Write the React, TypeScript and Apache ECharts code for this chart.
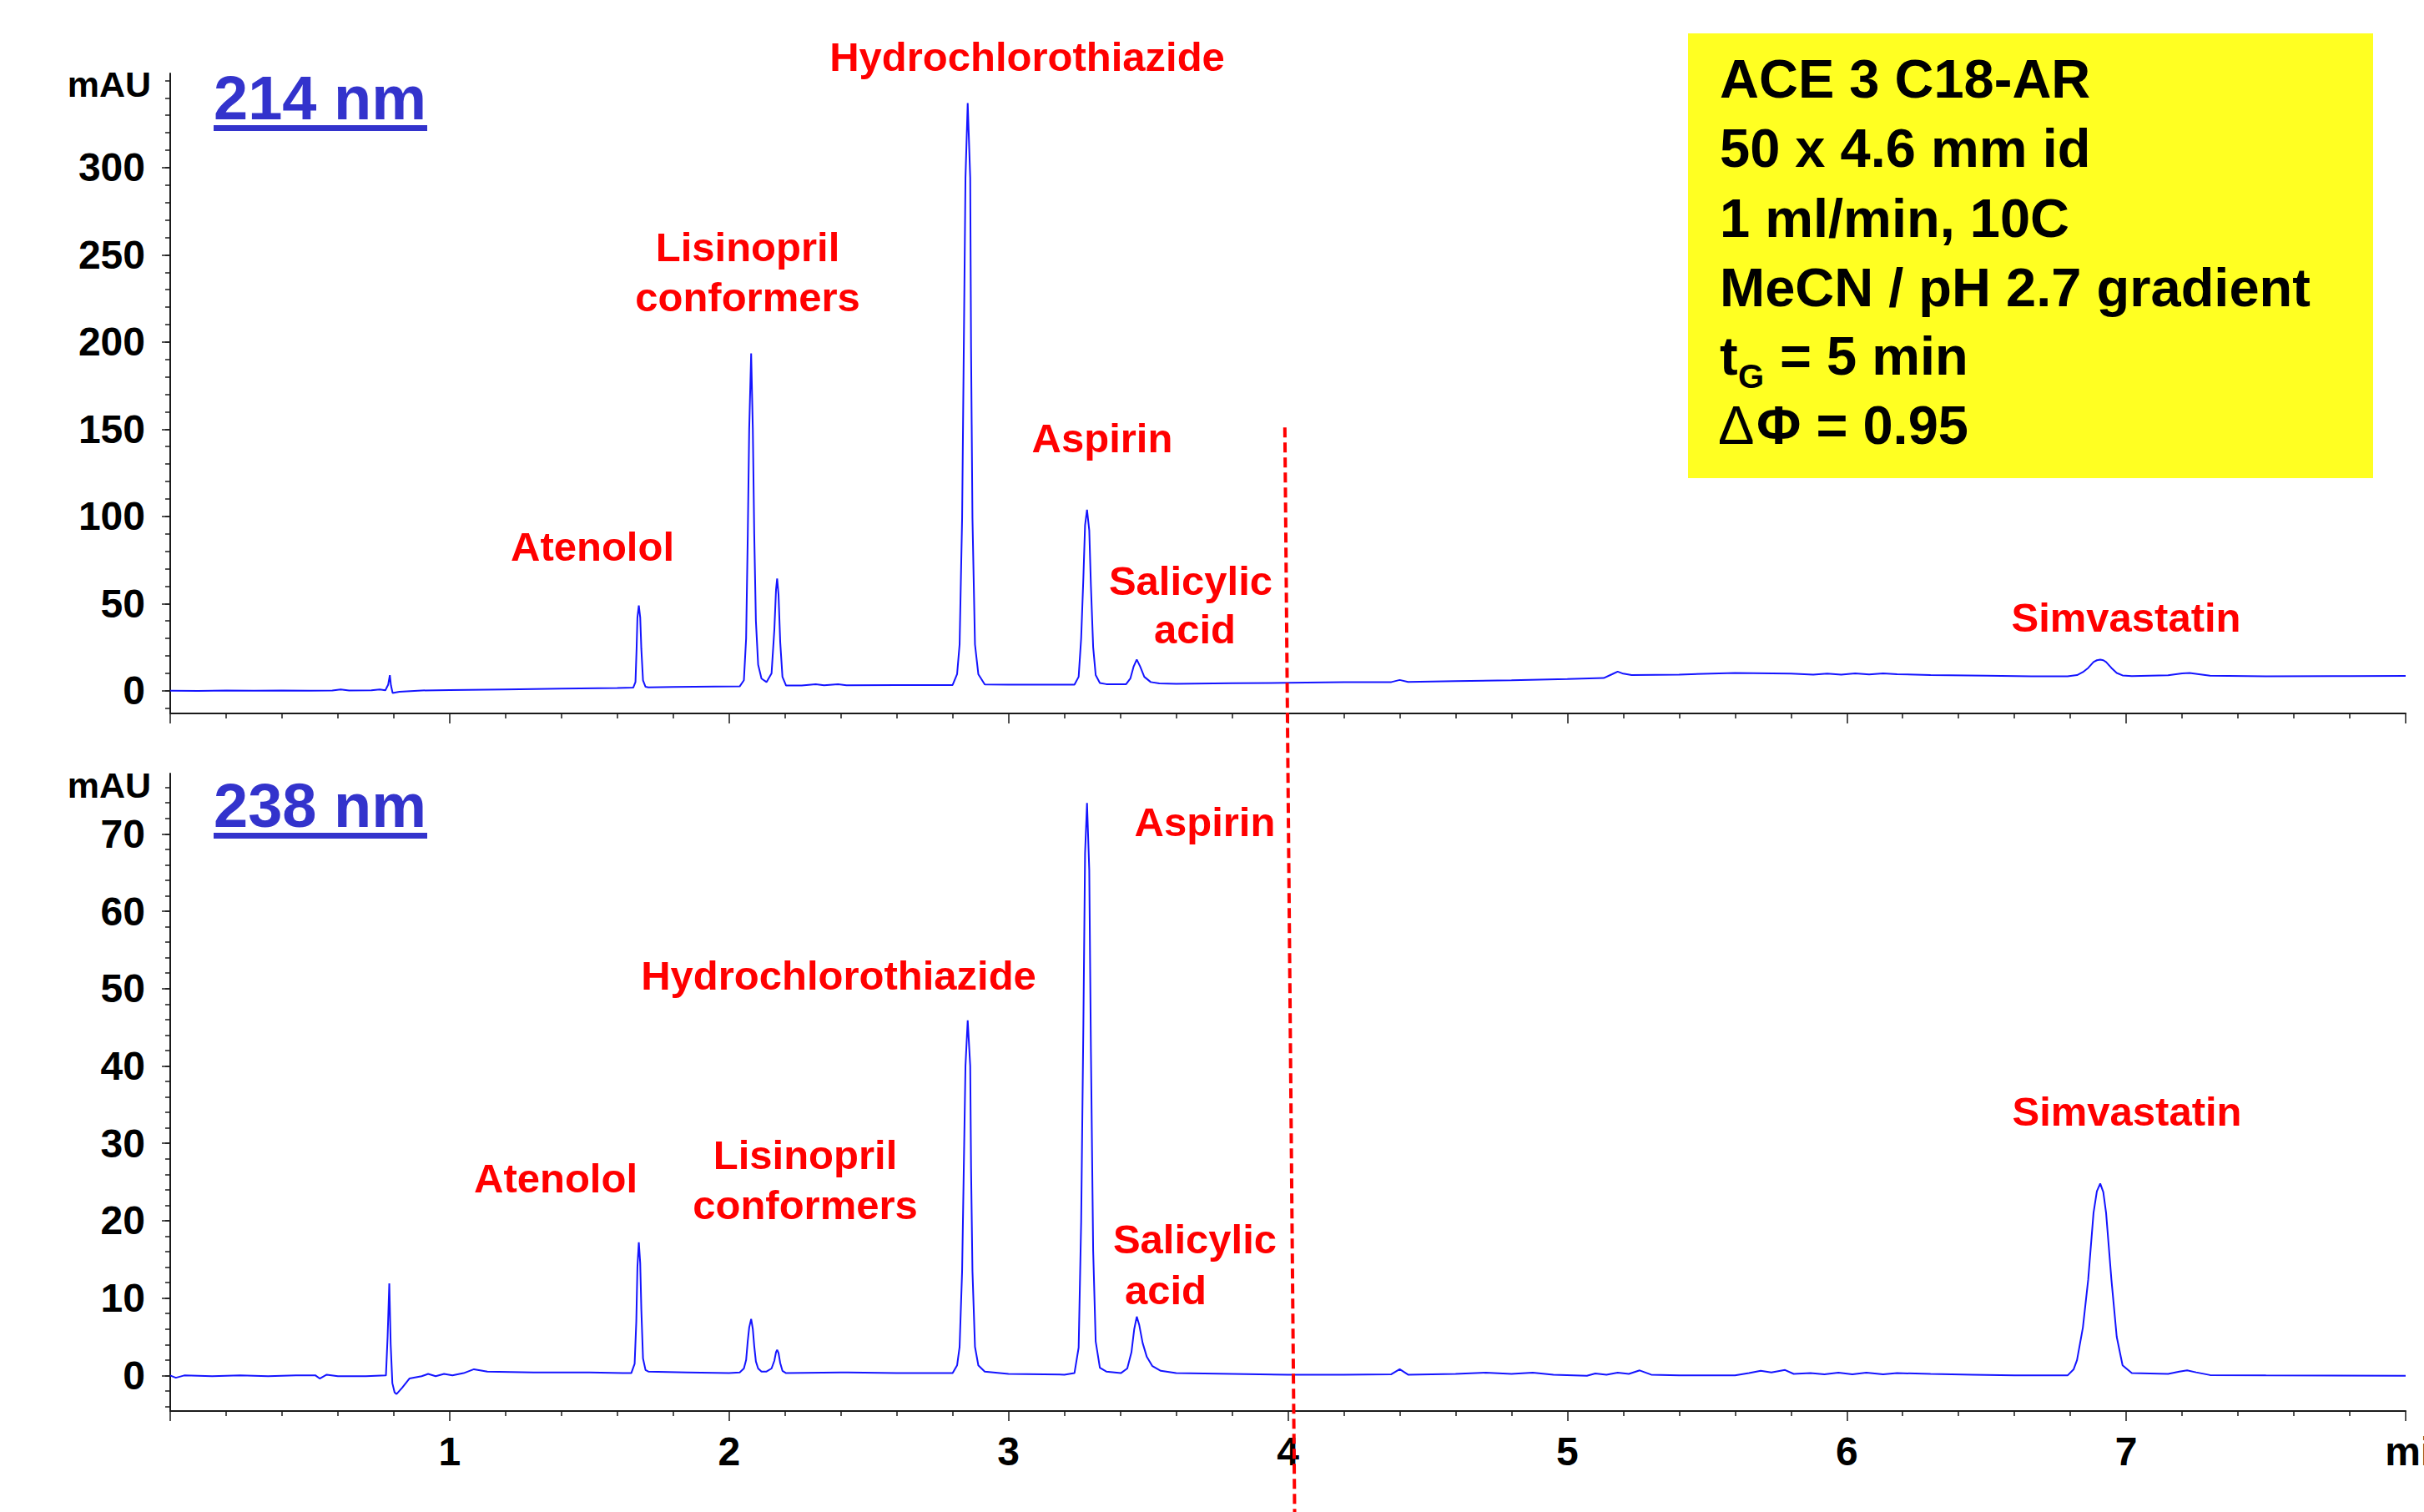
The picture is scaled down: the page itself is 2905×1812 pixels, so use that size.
import React, { useEffect, useRef } from "react";
import * as echarts from "echarts";

// ---------------- data ----------------
// time (min), absorbance (mAU) at 214 nm
const TRACE_214: [number, number][] = [
  [0.0, 0.0], [0.1, -0.1], [0.2, 0.1], [0.3, 0.0], [0.4, 0.1], [0.5, 0.0], [0.58, 0.2], [0.61, 0.8],
  [0.64, 0.2], [0.72, 0.3], [0.75, 0.8], [0.77, 0.3], [0.78, 3.5], [0.786, 8.9], [0.79, 3.0],
  [0.796, -1.3], [0.82, -0.6], [0.9, 0.2], [1.0, 0.4], [1.2, 0.8], [1.4, 1.2], [1.6, 1.6],
  [1.657, 1.8], [1.665, 5], [1.669, 24], [1.672, 42], [1.677, 48.9], [1.682, 42], [1.686, 24],
  [1.692, 6], [1.701, 2.3], [1.711, 2.0], [1.8, 2.2], [1.95, 2.4],
  [2.038, 2.5], [2.053, 6], [2.061, 30], [2.067, 90], [2.072, 150], [2.079, 193.4], [2.085, 150],
  [2.09, 90], [2.096, 40], [2.104, 15], [2.116, 7], [2.134, 5], [2.152, 10], [2.162, 35], [2.168, 58],
  [2.172, 64.3], [2.177, 55], [2.183, 28], [2.191, 8], [2.204, 3.0],
  [2.26, 3.0], [2.31, 3.8], [2.34, 3.1], [2.39, 3.7], [2.42, 3.2], [2.6, 3.3], [2.78, 3.3],
  [2.8, 3.3], [2.816, 9.5], [2.825, 26.6], [2.834, 99], [2.84, 196.6], [2.846, 294], [2.854, 337],
  [2.863, 294], [2.866, 196.6], [2.871, 99], [2.88, 26.6], [2.892, 9.5], [2.915, 3.6],
  [3.0, 3.5], [3.2, 3.5],
  [3.236, 3.5], [3.251, 8], [3.26, 30], [3.268, 65], [3.274, 95], [3.281, 103.8], [3.289, 92],
  [3.295, 60], [3.303, 25], [3.312, 9], [3.327, 4.5], [3.35, 3.8],
  [3.421, 3.8], [3.436, 7], [3.448, 14], [3.459, 17.9], [3.471, 14], [3.486, 8], [3.509, 5], [3.54, 4.2],
  [3.6, 4.0], [3.8, 4.3], [4.0, 4.6], [4.2, 4.9], [4.37, 5.0], [4.4, 6.2], [4.43, 5.1], [4.6, 5.6],
  [4.8, 6.0], [5.0, 6.7], [5.13, 7.3], [5.16, 9.5], [5.18, 11.0], [5.2, 9.8], [5.23, 9.0], [5.4, 9.3],
  [5.6, 10.2], [5.8, 9.9], [5.88, 9.3], [5.93, 9.9], [5.98, 9.3], [6.03, 10.0], [6.08, 9.4], [6.13, 10.0],
  [6.18, 9.5], [6.3, 9.0], [6.5, 8.7], [6.66, 8.3], [6.79, 8.3],
  [6.824, 9.0], [6.845, 10.7], [6.864, 13.1], [6.883, 16.5], [6.895, 17.5], [6.907, 17.9], [6.918, 17.5],
  [6.928, 16.5], [6.947, 13.1], [6.966, 10.2], [6.987, 8.8], [7.02, 8.4],
  [7.15, 8.9], [7.2, 10.0], [7.227, 10.2], [7.26, 9.5], [7.3, 8.6], [7.5, 8.3], [7.8, 8.4], [8.0, 8.5],
];

// time (min), absorbance (mAU) at 238 nm
const TRACE_238: [number, number][] = [
  [0.0, 0.0], [0.02, -0.3], [0.05, 0.0], [0.15, -0.1], [0.25, 0.0], [0.35, -0.1], [0.45, 0.0], [0.52, 0.0],
  [0.535, -0.4], [0.56, 0.1], [0.6, -0.1], [0.7, -0.1], [0.772, 0.0], [0.778, 5.0], [0.784, 11.9],
  [0.789, 4.0], [0.795, -1.0], [0.803, -2.2], [0.81, -2.4], [0.83, -1.6], [0.856, -0.4], [0.9, -0.1],
  [0.923, 0.2], [0.95, -0.1], [0.98, 0.2], [1.01, 0.0], [1.05, 0.3], [1.087, 0.8], [1.135, 0.5],
  [1.3, 0.4], [1.5, 0.4], [1.62, 0.3],
  [1.65, 0.3], [1.662, 1.5], [1.668, 7.0], [1.672, 14.0], [1.677, 17.2], [1.682, 14.5], [1.686, 8.5],
  [1.692, 2.2], [1.701, 0.7], [1.711, 0.5], [1.85, 0.4], [2.0, 0.3],
  [2.038, 0.4], [2.053, 0.9], [2.061, 2.0], [2.067, 4.5], [2.072, 6.2], [2.079, 7.3], [2.085, 6.0],
  [2.09, 3.8], [2.096, 1.8], [2.104, 0.9], [2.116, 0.5], [2.134, 0.5], [2.152, 0.9], [2.162, 1.9],
  [2.168, 3.0], [2.172, 3.3], [2.177, 2.9], [2.183, 1.6], [2.191, 0.6], [2.204, 0.3],
  [2.4, 0.4], [2.6, 0.3], [2.79, 0.3],
  [2.8, 0.3], [2.816, 1.3], [2.825, 3.7], [2.834, 13.5], [2.84, 26.8], [2.846, 40.0], [2.854, 45.9],
  [2.863, 40.0], [2.866, 26.8], [2.871, 13.5], [2.88, 3.7], [2.892, 1.3], [2.915, 0.5],
  [3.0, 0.2], [3.2, 0.1],
  [3.236, 0.3], [3.251, 3.6], [3.26, 19.8], [3.268, 45.5], [3.274, 67.5], [3.281, 74.0], [3.289, 65.3],
  [3.295, 41.8], [3.303, 16.1], [3.312, 4.4], [3.327, 1.0], [3.35, 0.5],
  [3.402, 0.3], [3.425, 0.9], [3.44, 3.0], [3.45, 6.0], [3.459, 7.6], [3.468, 6.5], [3.48, 4.2],
  [3.495, 2.4], [3.515, 1.2], [3.545, 0.6], [3.6, 0.3],
  [3.8, 0.2], [4.0, 0.1], [4.2, 0.1], [4.37, 0.15], [4.4, 0.8], [4.43, 0.1], [4.6, 0.2], [4.707, 0.35],
  [4.8, 0.2], [4.876, 0.35], [4.95, 0.1], [5.07, -0.05], [5.1, 0.25], [5.14, 0.1], [5.18, 0.35],
  [5.22, 0.2], [5.259, 0.65], [5.3, 0.1], [5.4, 0.0], [5.6, 0.0], [5.65, 0.3], [5.692, 0.6], [5.73, 0.4],
  [5.779, 0.7], [5.81, 0.2], [5.87, 0.3], [5.92, 0.15], [5.97, 0.35], [6.02, 0.15], [6.07, 0.35],
  [6.13, 0.15], [6.18, 0.3], [6.3, 0.2], [6.45, 0.1], [6.6, 0.0], [6.79, 0.0],
  [6.812, 0.8], [6.824, 2.0], [6.845, 6.2], [6.864, 12.4], [6.883, 21.0], [6.895, 23.8], [6.907, 24.8],
  [6.918, 23.7], [6.928, 21.0], [6.947, 12.4], [6.966, 5.0], [6.987, 1.3], [7.02, 0.3],
  [7.15, 0.2], [7.19, 0.5], [7.218, 0.65], [7.25, 0.4], [7.3, 0.05], [7.5, 0.0], [8.0, -0.05],
];

// axis ranges and ticks
const TIME_RANGE = [0, 8];
const X_TICK_LABELS = ["", "1", "2", "3", "4", "5", "6", "7", "min"];
const Y_RANGE_214 = [-13, 354];
const Y_LABELS_214 = [0, 50, 100, 150, 200, 250, 300];
const Y_MINOR_214 = [
  -10, 0, 10, 20, 30, 40, 50, 60, 70, 80, 90, 100, 110, 120, 130, 140, 150, 160, 170, 180, 190,
  200, 210, 220, 230, 240, 250, 260, 270, 280, 290, 300, 310, 320, 330, 340, 350,
];
const Y_RANGE_238 = [-4.6, 77.8];
const Y_LABELS_238 = [0, 10, 20, 30, 40, 50, 60, 70];
const Y_MINOR_238 = [
  -4, -2, 0, 2, 4, 6, 8, 10, 12, 14, 16, 18, 20, 22, 24, 26, 28, 30, 32, 34, 36, 38, 40, 42, 44, 46,
  48, 50, 52, 54, 56, 58, 60, 62, 64, 66, 68, 70, 72, 74, 76,
];

// peak names
const PEAKS_214 = ["Hydrochlorothiazide", "Lisinopril\nconformers", "Atenolol", "Aspirin", "Salicylic", "acid", "Simvastatin"];
const PEAKS_238 = ["Aspirin", "Hydrochlorothiazide", "Atenolol", "Lisinopril\nconformers", "Salicylic", "acid", "Simvastatin"];

const INFO_LINES = ["ACE 3 C18-AR", "50 x 4.6 mm id", "1 ml/min, 10C", "MeCN / pH 2.7 gradient"];
const DASH_TIMES = [3.989, 4.024];

// ---------------- layout ----------------
const W = 2905;
const H = 1812;
const FONT = '"Liberation Sans", Arial, Helvetica, sans-serif';
const RED = "#ff0000";
const BLUE_TITLE = "#3333cc";
const TRACE_COLOR = "#1414ff";
const AXIS_COLOR = "#1a1a1a";

const PEAK_POS_214 = [
  [1231, 68], [896, 296], [710, 655], [1321, 525], [1427, 696], [1432, 754], [2548, 740],
];
const PEAK_POS_238 = [
  [1444, 985], [1005, 1169], [666, 1412], [965, 1384], [1432, 1485], [1397, 1546], [2549, 1332],
];

function redText(text: string, x: number, y: number) {
  return {
    type: "text",
    x,
    y,
    z: 20,
    style: {
      text,
      fill: RED,
      fontSize: 49,
      fontWeight: "bold",
      fontFamily: FONT,
      align: "center",
      verticalAlign: "middle",
      lineHeight: 60,
    },
  };
}

function blackText(text: string, x: number, y: number, size: number, weight = "bold", align = "left") {
  return {
    type: "text",
    x,
    y,
    z: 30,
    style: {
      text,
      fill: "#000",
      fontSize: size,
      fontWeight: weight,
      fontFamily: FONT,
      align,
      verticalAlign: "middle",
    },
  };
}

function xAxisDef(gridIndex: number, showLabels: boolean) {
  return {
    type: "value",
    gridIndex,
    min: TIME_RANGE[0],
    max: TIME_RANGE[1],
    interval: 1,
    axisLine: { show: true, onZero: false, lineStyle: { color: AXIS_COLOR, width: 2 } },
    axisTick: { show: true, length: 12, lineStyle: { color: AXIS_COLOR, width: 1.5 } },
    minorTick: { show: true, splitNumber: 5, length: 6, lineStyle: { color: AXIS_COLOR, width: 1.5 } },
    splitLine: { show: false },
    minorSplitLine: { show: false },
    axisLabel: {
      show: showLabels,
      showMinLabel: true,
      showMaxLabel: true,
      hideOverlap: false,
      margin: 24,
      fontSize: 48,
      fontWeight: "bold",
      fontFamily: FONT,
      color: "#000",
      formatter: (v: number) => {
        const i = Math.round(v);
        if (Math.abs(v - i) > 1e-6) return "";
        const s = X_TICK_LABELS[i] ?? "";
        return s === "min" ? "{m|min}" : s;
      },
      rich: {
        m: {
          fontSize: 48,
          fontWeight: "bold",
          fontFamily: FONT,
          color: "#000",
          padding: [0, 0, 0, 36],
        },
      },
    },
  };
}

function yAxisMain(gridIndex: number, range: number[], labels: number[]) {
  return {
    type: "value",
    gridIndex,
    position: "left",
    min: range[0],
    max: range[1],
    axisLine: { show: true, onZero: false, lineStyle: { color: AXIS_COLOR, width: 2 } },
    axisTick: { show: true, length: 10, customValues: labels, lineStyle: { color: AXIS_COLOR, width: 1.5 } },
    axisLabel: {
      show: true,
      customValues: labels,
      margin: 30,
      fontSize: 48,
      fontWeight: "bold",
      fontFamily: FONT,
      color: "#000",
    },
    splitLine: { show: false },
  };
}

function yAxisMinor(gridIndex: number, range: number[], ticks: number[]) {
  return {
    type: "value",
    gridIndex,
    position: "left",
    offset: 0,
    min: range[0],
    max: range[1],
    axisLine: { show: false },
    axisTick: { show: true, length: 6, customValues: ticks, lineStyle: { color: AXIS_COLOR, width: 1.5 } },
    axisLabel: { show: false },
    splitLine: { show: false },
  };
}

export default function App() {
  const ref = useRef<HTMLDivElement>(null);

  useEffect(() => {
    if (!ref.current) return;
    const chart = echarts.init(ref.current, undefined, { renderer: "svg", width: W, height: H });

    const option: any = {
      animation: false,
      backgroundColor: "#ffffff",
      grid: [
        { left: 204, top: 88, width: 2679, height: 767, containLabel: false, outerBoundsMode: "none" },
        { left: 204, top: 927, width: 2679, height: 764, containLabel: false, outerBoundsMode: "none" },
      ],
      xAxis: [xAxisDef(0, false), xAxisDef(1, true)],
      yAxis: [
        yAxisMain(0, Y_RANGE_214, Y_LABELS_214),
        yAxisMinor(0, Y_RANGE_214, Y_MINOR_214),
        yAxisMain(1, Y_RANGE_238, Y_LABELS_238),
        yAxisMinor(1, Y_RANGE_238, Y_MINOR_238),
      ],
      series: [
        {
          name: "214 nm",
          type: "line",
          xAxisIndex: 0,
          yAxisIndex: 0,
          data: TRACE_214,
          showSymbol: false,
          symbol: "none",
          smooth: false,
          silent: true,
          lineStyle: { color: TRACE_COLOR, width: 2 },
        },
        {
          name: "238 nm",
          type: "line",
          xAxisIndex: 1,
          yAxisIndex: 2,
          data: TRACE_238,
          showSymbol: false,
          symbol: "none",
          smooth: false,
          silent: true,
          lineStyle: { color: TRACE_COLOR, width: 2 },
        },
      ],
    };
    chart.setOption(option);

    // dashed marker near 4 min, through both panels
    const x1 = chart.convertToPixel({ xAxisIndex: 0 } as any, DASH_TIMES[0]) as number;
    const y1 = chart.convertToPixel({ yAxisIndex: 0 } as any, 151) as number;
    const x2 = chart.convertToPixel({ xAxisIndex: 1 } as any, DASH_TIMES[1]) as number;

    const graphics: any[] = [];

    // titles
    graphics.push({
      type: "text", x: 256, y: 117, z: 20,
      style: { text: "214 nm", fill: BLUE_TITLE, fontSize: 74, fontWeight: "bold", fontFamily: FONT, align: "left", verticalAlign: "middle" },
    });
    graphics.push({ type: "rect", z: 20, shape: { x: 256, y: 150, width: 256, height: 7 }, style: { fill: BLUE_TITLE } });
    graphics.push({
      type: "text", x: 256, y: 965, z: 20,
      style: { text: "238 nm", fill: BLUE_TITLE, fontSize: 74, fontWeight: "bold", fontFamily: FONT, align: "left", verticalAlign: "middle" },
    });
    graphics.push({ type: "rect", z: 20, shape: { x: 256, y: 998, width: 256, height: 7 }, style: { fill: BLUE_TITLE } });

    // unit labels
    graphics.push(blackText("mAU", 181, 101, 43, "bold", "right"));
    graphics.push(blackText("mAU", 181, 941, 43, "bold", "right"));

    // peak labels
    PEAKS_214.forEach((t, i) => graphics.push(redText(t, PEAK_POS_214[i][0], PEAK_POS_214[i][1] + (t.includes("\n") ? 30 : 0))));
    PEAKS_238.forEach((t, i) => graphics.push(redText(t, PEAK_POS_238[i][0], PEAK_POS_238[i][1] + (t.includes("\n") ? 30 : 0))));

    // info box
    graphics.push({ type: "rect", z: 25, shape: { x: 2023, y: 40, width: 821, height: 533 }, style: { fill: "#ffff22" } });
    const lineY = [94, 177, 261, 344];
    INFO_LINES.forEach((t, i) => graphics.push(blackText(t, 2061, lineY[i], 65)));
    graphics.push(blackText("t", 2061, 426, 65));
    graphics.push(blackText("G", 2083, 451, 40));
    graphics.push(blackText("= 5 min", 2133, 426, 65));
    graphics.push(blackText("\u0394", 2059, 509, 65, "normal"));
    graphics.push(blackText("\u03A6 = 0.95", 2105, 509, 65));

    // dashed line
    graphics.push({
      type: "line",
      z: 40,
      shape: { x1, y1, x2, y2: H },
      style: { stroke: RED, lineWidth: 4, lineDash: [12, 6] },
    });

    chart.setOption({ graphic: graphics });

    return () => chart.dispose();
  }, []);

  return (
    <div
      ref={ref}
      style={{ position: "fixed", left: 0, top: 0, width: W, height: H, background: "#fff" }}
    />
  );
}
